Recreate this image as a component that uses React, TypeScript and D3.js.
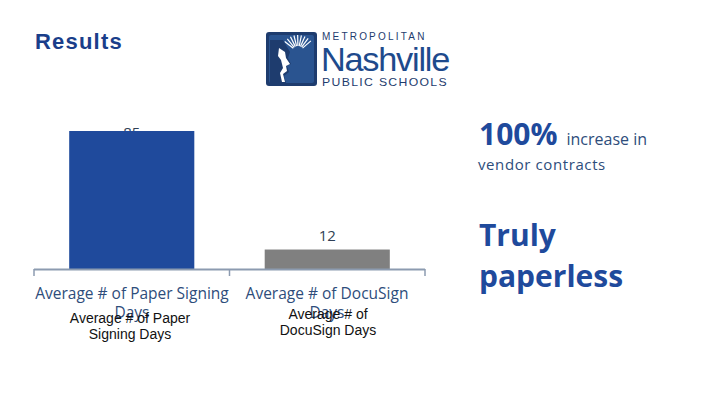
import React from "react";
import * as d3 from "d3";

const categories = ["Average # of Paper Signing Days", "Average # of DocuSign Days"];
const values = [85, 12];
const valueLabels = ["85", "12"];
const barColors = ["#1F4A9C", "#808080"];
const legendLines = [["Average # of Paper", "Signing Days"], ["Average # of", "DocuSign Days"]];
const catLines = [["Average # of Paper Signing", "Days"], ["Average # of DocuSign", "Days"]];

export default function App() {
  const W = 720, H = 405;
  const x = d3.scaleBand<string>().domain(categories).range([34, 425]).paddingInner(0.36).paddingOuter(0.18);
  const y = d3.scaleLinear().domain([0, 85]).range([269, 131]);
  const axisColor = "#8C9BB0";
  const labelFont = "'Open Sans', 'Noto Sans', sans-serif";
  const blue = "#1F4A9C";
  const textBlue = "#2E4D7B";
  return (
    <div style={{ position: "absolute", left: 0, top: 0, width: W, height: H, background: "#fff" }}>
      <svg width={W} height={H} style={{ display: "block" }}>
        <rect width={W} height={H} fill="#fff" />
        <text x={35} y={49} fontFamily="Arial, 'Liberation Sans', sans-serif" fontWeight="bold" fontSize={22} letterSpacing={1.2} fill="#1A3E8A">Results</text>

        {/* logo */}
        <g>
          <rect x={266} y={32} width={51} height={54} rx={3} fill="#1E3C6E" />
          <rect x={269} y={35} width={45} height={48} rx={2} fill="#2A5490" />
          <g stroke="#fff" strokeWidth={1.2}>
            {d3.range(9).map(i => {
              const a = -Math.PI / 2 - 0.9 + i * 0.22;
              return <line key={i} x1={298 + Math.cos(a) * 6} y1={52 + Math.sin(a) * 6} x2={298 + Math.cos(a) * 17} y2={52 + Math.sin(a) * 17} />;
            })}
          </g>
          <path d="M270,40 L283,40 L290,52 L288,58 L291,64 L287,66 L289,72 L284,76 L286,83 L270,83 Z" fill="#1E3C6E" />
          <path d="M279,48 L285,52 L286,58 L290,64 L286,66 L287,71 L283,74 L285,82 L282,82 L280,73 L283,68 L281,60 L278,56 Z" fill="#fff" />
          <text x={322} y={40} fontFamily="Arial, 'Liberation Sans', sans-serif" fontSize={10} letterSpacing={2.2} fill="#1E3C6E">METROPOLITAN</text>
          <text x={321} y={71} fontFamily="Arial, 'Liberation Sans', sans-serif" fontSize={33} letterSpacing={-1.2} fill="#1E4A8C" textLength={128} lengthAdjust="spacingAndGlyphs">Nashville</text>
          <text x={322} y={86} fontFamily="Arial, 'Liberation Sans', sans-serif" fontSize={11} letterSpacing={1.2} fill="#1E3C6E" textLength={126} lengthAdjust="spacingAndGlyphs">PUBLIC SCHOOLS</text>
        </g>

        {/* value labels drawn before bars */}
        {categories.map((c, i) => (
          <text key={"v" + i} x={x(c)! + x.bandwidth() / 2} y={y(values[i]) - 9 + (i === 0 ? 16 : 0)} textAnchor="middle"
            fontFamily={labelFont} fontSize={15} fill="#2F3F55">{valueLabels[i]}</text>
        ))}
        {categories.map((c, i) => (
          <rect key={"b" + i} x={x(c)} y={y(values[i])} width={x.bandwidth()} height={y(0) - y(values[i])} fill={barColors[i]} />
        ))}

        {/* axis */}
        <line x1={34} x2={425} y1={269.5} y2={269.5} stroke={axisColor} strokeWidth={2} />
        {[34, (34 + 425) / 2, 425].map((tx, i) => (
          <line key={"t" + i} x1={tx} x2={tx} y1={269} y2={276} stroke={axisColor} strokeWidth={1.5} />
        ))}
        {categories.map((c, i) => (
          <g key={"c" + i}>
            {catLines[i].map((ln, j) => (
              <text key={j} x={i === 0 ? 132 : 327} y={299 + j * 19} textAnchor="middle" fontFamily={labelFont}
                fontSize={15.5} fill={textBlue}>{ln}</text>
            ))}
          </g>
        ))}
        {legendLines.map((lines, i) => (
          <g key={"l" + i}>
            {lines.map((ln, j) => (
              <text key={j} x={i === 0 ? 130 : 328} y={(i === 0 ? 323 : 319) + j * 16} textAnchor="middle"
                fontFamily="Arial, 'Liberation Sans', sans-serif" fontSize={14} fill="#111">{ln}</text>
            ))}
          </g>
        ))}

        {/* right side callouts */}
        <text x={479} y={145} fontFamily={labelFont} fill={blue}>
          <tspan fontWeight="bold" fontSize={30}>100%</tspan>
          <tspan fontSize={16} fill={textBlue} dx={9}>increase in</tspan>
        </text>
        <text x={478} y={170} fontFamily={labelFont} fontSize={15} letterSpacing={0.6} fill={textBlue}>vendor contracts</text>
        <text x={479} y={246} fontFamily={labelFont} fontWeight="bold" fontSize={30} fill={blue}>Truly</text>
        <text x={479} y={287} fontFamily={labelFont} fontWeight="bold" fontSize={30} fill={blue}>paperless</text>
      </svg>
    </div>
  );
}
